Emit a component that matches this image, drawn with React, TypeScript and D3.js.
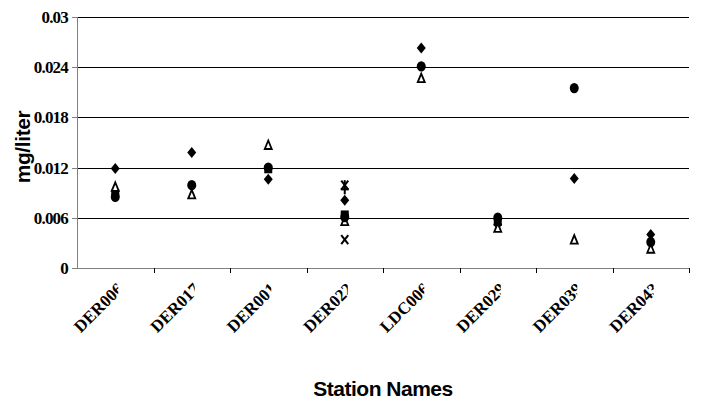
import React from "react";
import * as d3 from "d3";

const stations = ["DER006", "DER017", "DER001", "DER022", "LDC006", "DER029", "DER039", "DER043"];
const yTicks = [0, 0.006, 0.012, 0.018, 0.024, 0.03];
const yTickLabels = ["0", "0.006", "0.012", "0.018", "0.024", "0.03"];

const diamondVals = [0.0119, 0.0138, 0.0106, 0.0081, 0.0263, 0.0052, 0.0107, 0.004];
const squareVals = [0.0089, null, 0.0118, 0.0064, null, 0.0055, null, null];
const triangleVals = [0.0097, 0.0088, 0.0147, 0.0056, 0.0227, 0.0048, 0.0034, 0.0023];
const xVals = [null, null, null, 0.0034, null, null, null, null];
const starVals = [null, null, null, 0.0099, null, null, null, null];
const plusVals = [null, null, null, 0.0094, null, null, null, null];
const circleVals = [0.0085, 0.0099, 0.012, 0.0061, 0.0241, 0.006, 0.0215, 0.0031];

const series = [
  { name: "diamond", values: diamondVals },
  { name: "square", values: squareVals },
  { name: "triangle", values: triangleVals },
  { name: "x", values: xVals },
  { name: "star", values: starVals },
  { name: "plus", values: plusVals },
  { name: "circle", values: circleVals },
];

const W = 702;
const H = 408;
const plot = { left: 77, right: 689, top: 17, bottom: 268 };

function Marker({ type, x, y }: { type: string; x: number; y: number }) {
  switch (type) {
    case "diamond":
      return <path d={`M${x},${y - 5.5}L${x + 4.5},${y}L${x},${y + 5.5}L${x - 4.5},${y}Z`} fill="#000" />;
    case "square":
      return <rect x={x - 4} y={y - 4} width={8} height={8} fill="#000" />;
    case "triangle":
      return (
        <path
          d={`M${x},${y - 4.5}L${x + 3.5},${y + 4}L${x - 3.5},${y + 4}Z`}
          fill="#fff"
          stroke="#000"
          strokeWidth={1.8}
        />
      );
    case "x":
      return (
        <g stroke="#000" strokeWidth={2}>
          <line x1={x - 3.5} y1={y - 4.5} x2={x + 3.5} y2={y + 4.5} />
          <line x1={x + 3.5} y1={y - 4.5} x2={x - 3.5} y2={y + 4.5} />
        </g>
      );
    case "star":
      return (
        <g stroke="#000" strokeWidth={2}>
          <line x1={x - 3.5} y1={y - 4.5} x2={x + 3.5} y2={y + 4.5} />
          <line x1={x + 3.5} y1={y - 4.5} x2={x - 3.5} y2={y + 4.5} />
          <line x1={x} y1={y - 5} x2={x} y2={y + 5} />
        </g>
      );
    case "plus":
      return (
        <g stroke="#000" strokeWidth={2}>
          <line x1={x - 4} y1={y} x2={x + 4} y2={y} />
          <line x1={x} y1={y - 5} x2={x} y2={y + 5} />
        </g>
      );
    default:
      return <ellipse cx={x} cy={y} rx={4.5} ry={5.2} fill="#000" />;
  }
}

export default function App() {
  const x = d3.scaleBand<string>().domain(stations).range([plot.left, plot.right]);
  const y = d3.scaleLinear().domain([0, 0.03]).range([plot.bottom, plot.top]);
  const bw = x.bandwidth();
  const boundaries = stations.map((s) => (x(s) as number) + bw);

  return (
    <svg
      width={W}
      height={H}
      style={{ position: "absolute", left: 0, top: 0, background: "#fff" }}
    >
      <defs>
        {stations.map((s, i) => (
          <clipPath id={`clip${i}`} key={s} clipPathUnits="userSpaceOnUse">
            <rect x={0} y={0} width={(x(s) as number) + bw / 2 + 3} height={H} />
          </clipPath>
        ))}
      </defs>
      {/* gridlines */}
      {yTicks.slice(1).map((t) => (
        <line
          key={t}
          x1={plot.left}
          x2={plot.right}
          y1={Math.round(y(t)) + 0.5}
          y2={Math.round(y(t)) + 0.5}
          stroke="#000"
          strokeWidth={1}
        />
      ))}
      {/* y axis */}
      <line x1={plot.left + 0.5} x2={plot.left + 0.5} y1={plot.top} y2={plot.bottom} stroke="#808080" />
      {yTicks.map((t, i) => (
        <g key={t}>
          <line
            x1={plot.left - 5}
            x2={plot.left}
            y1={Math.round(y(t)) + 0.5}
            y2={Math.round(y(t)) + 0.5}
            stroke="#808080"
          />
          <text
            x={plot.left - 9}
            y={y(t)}
            dy="0.35em"
            textAnchor="end"
            fontFamily="Liberation Serif, Times New Roman, serif"
            fontWeight="bold"
            fontSize={17}
            letterSpacing={-0.8}
          >
            {yTickLabels[i]}
          </text>
        </g>
      ))}
      {/* x axis */}
      <line x1={plot.left} x2={plot.right} y1={plot.bottom + 0.5} y2={plot.bottom + 0.5} stroke="#808080" />
      {boundaries.map((b, i) => (
        <line
          key={i}
          x1={Math.round(b) + 0.5}
          x2={Math.round(b) + 0.5}
          y1={plot.bottom}
          y2={plot.bottom + 5}
          stroke="#000"
        />
      ))}
      {/* x labels */}
      {stations.map((s, i) => {
        const cx = (x(s) as number) + bw / 2;
        return (
          <g key={s} clipPath={`url(#clip${i})`}>
            <text
              transform={`translate(${cx + 9},${290}) rotate(-45)`}
              textAnchor="end"
              fontFamily="Liberation Serif, Times New Roman, serif"
              fontWeight="bold"
              fontSize={17}
            >
              {s}
            </text>
          </g>
        );
      })}
      {/* markers */}
      {series.map((se) =>
        se.values.map((v, i) =>
          v == null ? null : (
            <Marker
              key={se.name + i}
              type={se.name}
              x={(x(stations[i]) as number) + bw / 2}
              y={y(v)}
            />
          )
        )
      )}
      {/* titles */}
      <text
        transform={`translate(30,${147}) rotate(-90)`}
        textAnchor="middle"
        fontFamily="Liberation Sans, Arial, sans-serif"
        fontWeight="bold"
        fontSize={21}
        letterSpacing={-0.4}
      >
        mg/liter
      </text>
      <text
        x={(plot.left + plot.right) / 2}
        y={396}
        textAnchor="middle"
        fontFamily="Liberation Sans, Arial, sans-serif"
        fontWeight="bold"
        fontSize={21}
        letterSpacing={-0.5}
      >
        Station Names
      </text>
    </svg>
  );
}
